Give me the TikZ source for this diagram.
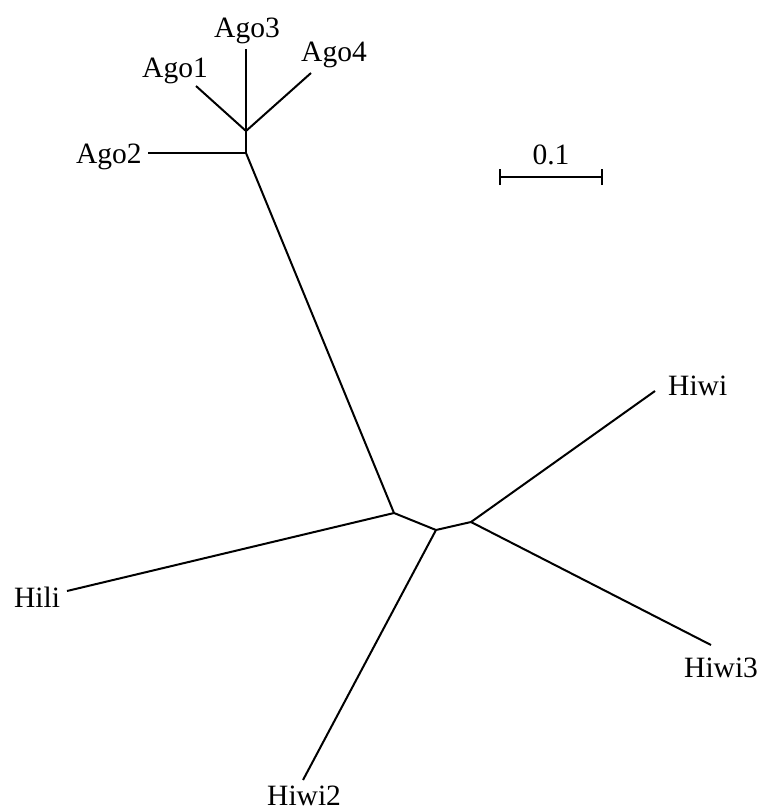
\documentclass[tikz,border=0pt]{standalone}
\usepackage{fontspec}
\setmainfont{Liberation Serif}
\begin{document}
\begin{tikzpicture}[x=1pt,y=-1pt,
  branch/.style={line width=2pt, line cap=butt},
  taxon/.style={font=\fontsize{29.5}{34}\selectfont, inner sep=0pt, anchor=base west}]
\useasboundingbox (0,0) rectangle (760,811);

% internal nodes
\coordinate (agoA) at (246,131);
\coordinate (agoB) at (246,153);
\coordinate (n1) at (394,513);
\coordinate (n2) at (436,530);
\coordinate (n3) at (471,522);

% leaf tips
\coordinate (tAgo1) at (196,86);
\coordinate (tAgo2) at (148,153);
\coordinate (tAgo3) at (246,49);
\coordinate (tAgo4) at (311,73);
\coordinate (tHili) at (67,591);
\coordinate (tHiwi2) at (303,780);
\coordinate (tHiwi3) at (711,645);
\coordinate (tHiwi) at (655,391);

% branches
\draw[branch] (tAgo3) -- (agoA) -- (agoB);
\draw[branch] (tAgo1) -- (agoA);
\draw[branch] (tAgo4) -- (agoA);
\draw[branch] (tAgo2) -- (agoB);
\draw[branch] (agoB) -- (n1);
\draw[branch] (tHili) -- (n1);
\draw[branch] (n1) -- (n2);
\draw[branch] (n2) -- (tHiwi2);
\draw[branch] (n2) -- (n3);
\draw[branch] (n3) -- (tHiwi);
\draw[branch] (n3) -- (tHiwi3);

% labels
\node[taxon] (lAgo1) at (142,77) {Ago1};
\node[taxon] (lAgo2) at (76,163) {Ago2};
\node[taxon] (lAgo3) at (214,37) {Ago3};
\node[taxon] (lAgo4) at (301,61) {Ago4};
\node[taxon] (lHiwi) at (668,395) {Hiwi};
\node[taxon] (lHili) at (14,607) {Hili};
\node[taxon] (lHiwi3) at (684,677) {Hiwi3};
\node[taxon] (lHiwi2) at (267,805) {Hiwi2};

% scale bar
\coordinate (sL) at (500,177);
\coordinate (sR) at (602,177);
\draw[branch] (sL) -- (sR);
\draw[branch] ([yshift=-8pt]sL) -- ([yshift=8pt]sL);
\draw[branch] ([yshift=-8pt]sR) -- ([yshift=8pt]sR);
\node[taxon, anchor=base] (scale) at (551,164) {0.1};
\end{tikzpicture}
\end{document}
